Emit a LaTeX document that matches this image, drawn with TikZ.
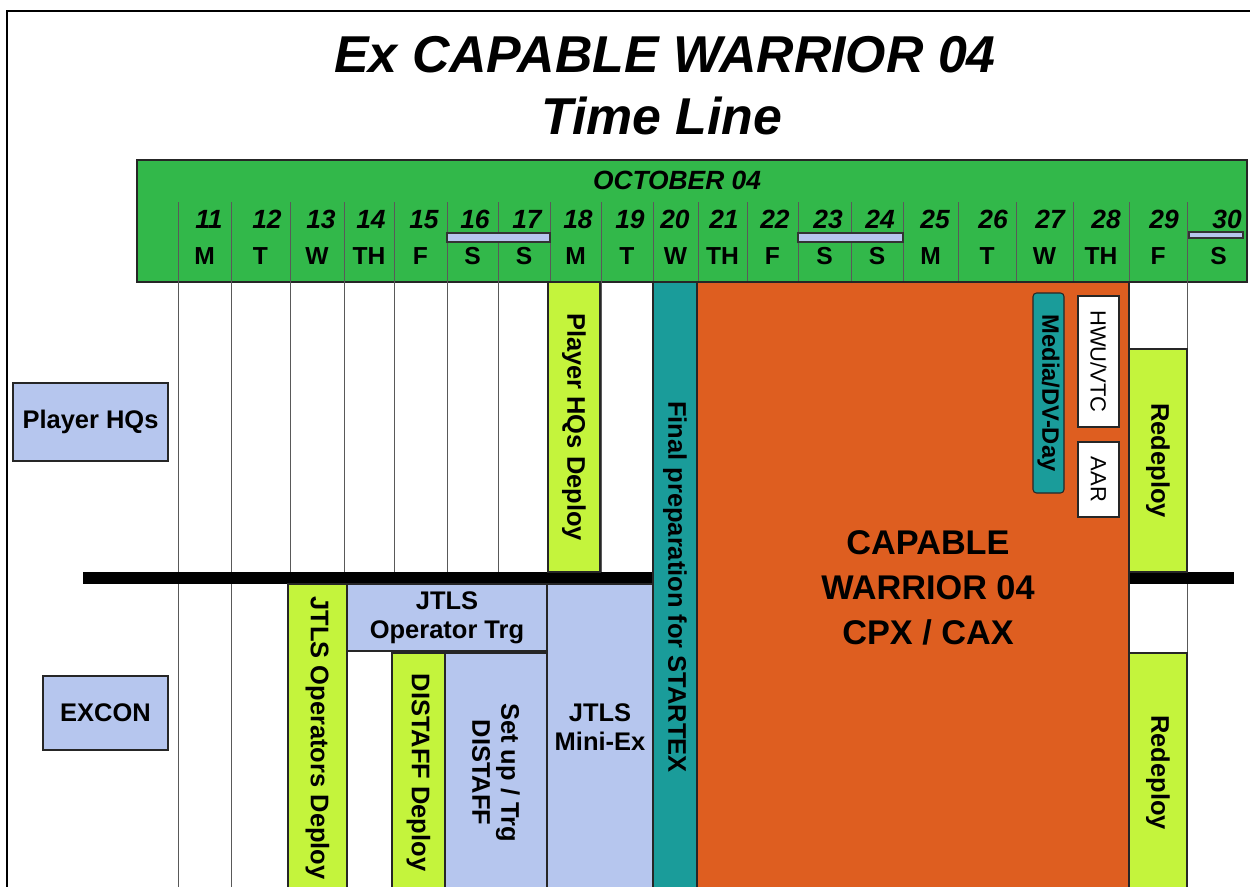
\documentclass[tikz,border=0pt]{standalone}
\usepackage{fontspec}
\setmainfont{Liberation Sans}
\usetikzlibrary{fit}

\definecolor{hdrgreen}{RGB}{50,184,74}
\definecolor{limeg}{RGB}{196,244,60}
\definecolor{tealb}{RGB}{26,156,154}
\definecolor{orangex}{RGB}{222,94,32}
\definecolor{paleblue}{RGB}{182,198,238}

\begin{document}
\begin{tikzpicture}[
    x=0.02cm, y=-0.02cm,
    grid/.style={draw=black!65, line width=0.5pt},
    bar/.style={draw=black!85, line width=0.6pt, inner sep=0pt},
    txt/.style={font=\bfseries\fontsize{14.5}{16.5}\selectfont, align=center, inner sep=0pt},
    vtxt/.style={txt, rotate=-90},
    daynum/.style={font=\bfseries\itshape\fontsize{15}{15}\selectfont, anchor=base east, inner sep=0pt},
    dayname/.style={font=\bfseries\fontsize{14}{14}\selectfont, anchor=base, inner sep=0pt},
    wkend/.style={draw=black!80, fill=paleblue, line width=0.6pt},
    divider/.style={line width=6.8pt}
]
\useasboundingbox (0,0) rectangle (1250,886);
\clip (0,0) rectangle (1250,886);
\fill[white] (0,0) rectangle (1250,886);
\draw[line width=1.7pt] (7,900) -- (7,11) -- (1260,11);

% title
\node[font=\bfseries\itshape\fontsize{29.5}{30}\selectfont, anchor=base] (title) at (665,72) {Ex CAPABLE WARRIOR 04};
\node[font=\bfseries\itshape\fontsize{29.5}{30}\selectfont, anchor=base] (subtitle) at (662,134) {Time Line};

% calendar header
\node[bar, fill=hdrgreen, line width=0.8pt, fit={(137,160) (1247,282)}] (header) {};
\node[font=\bfseries\itshape\fontsize{15}{15}\selectfont, anchor=base] (month) at (677,189) {OCTOBER 04};

\foreach \a/\b/\d/\l in {178/231/11/M, 231/290/12/T, 290/344/13/W, 344/394/14/TH,
    394/447/15/F, 447/498/16/S, 498/550/17/S, 550/601/18/M, 601/653/19/T,
    653/698/20/W, 698/747/21/TH, 747/798/22/F, 798/851/23/S, 851/903/24/S,
    903/958/25/M, 958/1016/26/T, 1016/1073/27/W, 1073/1129/28/TH,
    1129/1187/29/F, 1187/1250/30/S} {
  \draw[grid] (\a,202) -- (\a,890);
  \node[daynum] (n\d) at (\b-8,228) {\d};
  \node[dayname] (d\d) at ({(\a+\b)/2},264) {\l};
}
\draw[wkend] (447,233) rectangle (550,242);
\draw[wkend] (798,233) rectangle (903,242);
\draw[wkend] (1189,232) rectangle (1243,238);

\draw[divider] (83,578) -- (1234,578);

% row labels
\node[bar, fill=paleblue, fit={(13,383) (168,461)}] (playerhq) {};
\node[txt] at (playerhq.center) {Player HQs};
\node[bar, fill=paleblue, fit={(43,676) (168,750)}] (excon) {};
\node[txt] at (excon.center) {EXCON};

% player HQs row
\node[bar, fill=limeg, fit={(548,282) (600,572)}] (hqdeploy) {};
\node[vtxt] at (hqdeploy.center) {Player HQs Deploy};
\node[bar, fill=tealb, fit={(653,282) (697,892)}] (finalprep) {};
\node[vtxt] at (finalprep.center) {Final preparation for STARTEX};
\node[bar, fill=orangex, fit={(697,282) (1129,892)}] (cpx) {};
\node[txt, font=\bfseries\fontsize{19.5}{25.5}\selectfont] at (928,588) {CAPABLE\\WARRIOR 04\\CPX / CAX};
\node[bar, fill=tealb, rounded corners=2pt, fit={(1033,293) (1064,493)}] (media) {};
\node[vtxt, font=\bfseries\fontsize{13.5}{15}\selectfont] at (media.center) {Media/DV-Day};
\node[bar, fill=white, fit={(1078,296) (1119,427)}] (hwu) {};
\node[vtxt, font=\fontsize{12.5}{14}\selectfont] at (hwu.center) {HWU/VTC};
\node[bar, fill=white, fit={(1078,442) (1119,517)}] (aar) {};
\node[vtxt, font=\fontsize{12.5}{14}\selectfont] at (aar.center) {AAR};
\node[bar, fill=limeg, fit={(1129,349) (1187,572)}] (redeploy1) {};
\node[vtxt] at (redeploy1.center) {Redeploy};

% EXCON row
\node[bar, fill=limeg, fit={(288,584) (347,892)}] (opsdeploy) {};
\node[vtxt] at (opsdeploy.center) {JTLS Operators Deploy};
\node[bar, fill=paleblue, fit={(347,584) (547,651)}] (opstrg) {};
\node[txt] at (opstrg.center) {JTLS\\Operator Trg};
\node[bar, fill=limeg, fit={(392,653) (445,892)}] (distaff) {};
\node[vtxt] at (distaff.center) {DISTAFF Deploy};
\node[bar, fill=paleblue, fit={(445,653) (547,892)}] (setup) {};
\node[vtxt] at (setup.center) {Set up / Trg\\DISTAFF};
\node[bar, fill=paleblue, fit={(547,584) (653,892)}] (miniex) {};
\node[txt] at ([yshift=6pt]miniex.center) {JTLS\\Mini-Ex};
\node[bar, fill=limeg, fit={(1129,653) (1187,892)}] (redeploy2) {};
\node[vtxt] at (redeploy2.center) {Redeploy};
\end{tikzpicture}
\end{document}
